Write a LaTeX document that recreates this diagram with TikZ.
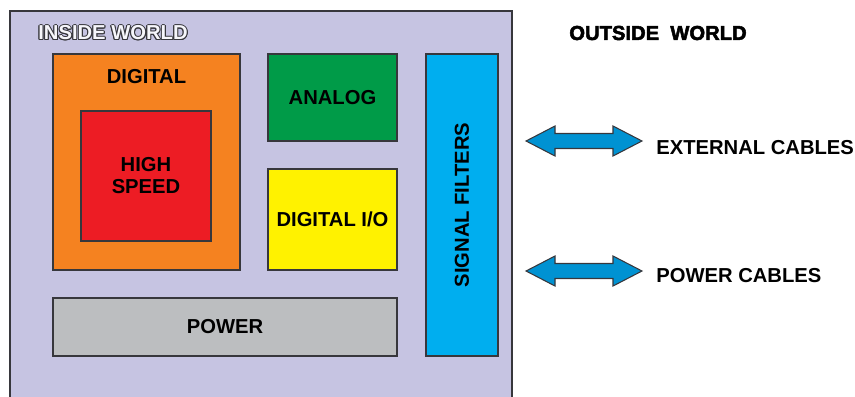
\documentclass[tikz,border=0pt]{standalone}
\usepackage{fontspec}
\setmainfont{Liberation Sans}
\newfontfamily\heavyfont{Liberation Sans}[BoldFeatures={FakeBold=2.5}]
\usetikzlibrary{calc}

\definecolor{world}{RGB}{198,196,226}
\definecolor{digitalc}{RGB}{245,130,32}
\definecolor{speedc}{RGB}{237,28,36}
\definecolor{analogc}{RGB}{0,155,72}
\definecolor{ioc}{RGB}{255,242,0}
\definecolor{powerc}{RGB}{188,190,192}
\definecolor{filterc}{RGB}{0,174,239}
\definecolor{cablec}{RGB}{0,146,210}
\definecolor{edge}{RGB}{55,55,60}

\tikzset{
  blk/.style={draw=edge, line width=0.6pt},
  lbl/.style={font=\fontsize{11.5}{12.5}\selectfont\bfseries, align=center, inner sep=0pt},
  cable/.pic={
    \draw[blk, fill=cablec] (-58,0) -- (-29,-15) -- (-29,-7.5) -- (29,-7.5)
      -- (29,-15) -- (58,0) -- (29,15) -- (29,7.5) -- (-29,7.5) -- (-29,15) -- cycle;
  }
}

\begin{document}
\begin{tikzpicture}[x=0.02cm, y=-0.02cm]
  \useasboundingbox (0,0) rectangle (855,396);
  \clip (0,0) rectangle (855,396);

  % inside world frame (runs off the bottom)
  \draw[blk, fill=world] (10,11) rectangle (512,410);
  \foreach \a in {0,30,...,330}
    \node[lbl, text=edge] (halo\a) at ($(113,33)+(\a:1)$) {INSIDE WORLD};
  \node[lbl, text=white!85!world] (inside) at (113,33) {INSIDE WORLD};

  % blocks
  \draw[blk, fill=digitalc] (53,54) rectangle (240,270);
  \node[lbl] (digital) at (146.5,77) {DIGITAL};
  \draw[blk, fill=speedc] (81,111) rectangle (211,241);
  \node[lbl] (speed) at (146,176) {HIGH\\SPEED};
  \draw[blk, fill=analogc] (268,54) rectangle (397,141);
  \node[lbl] (analog) at (332.5,98) {ANALOG};
  \draw[blk, fill=ioc] (268,169) rectangle (397,270);
  \node[lbl] (io) at (332.5,219) {DIGITAL I/O};
  \draw[blk, fill=powerc] (53,298) rectangle (397,356);
  \node[lbl] (power) at (225,327) {POWER};
  \draw[blk, fill=filterc] (426,54) rectangle (498,356);
  \node[lbl, rotate=90] (filters) at (462,205) {SIGNAL FILTERS};

  % outside world
  \node[lbl, font=\fontsize{11.5}{12.5}\selectfont\heavyfont\bfseries] (outside) at (658,33) {OUTSIDE\ \ WORLD};
  \pic at (584,141) {cable};
  \node[lbl, anchor=west] (ext) at (656,148) {EXTERNAL CABLES};
  \pic at (584,271) {cable};
  \node[lbl, anchor=west] (pwr) at (656,276) {POWER CABLES};
\end{tikzpicture}
\end{document}
